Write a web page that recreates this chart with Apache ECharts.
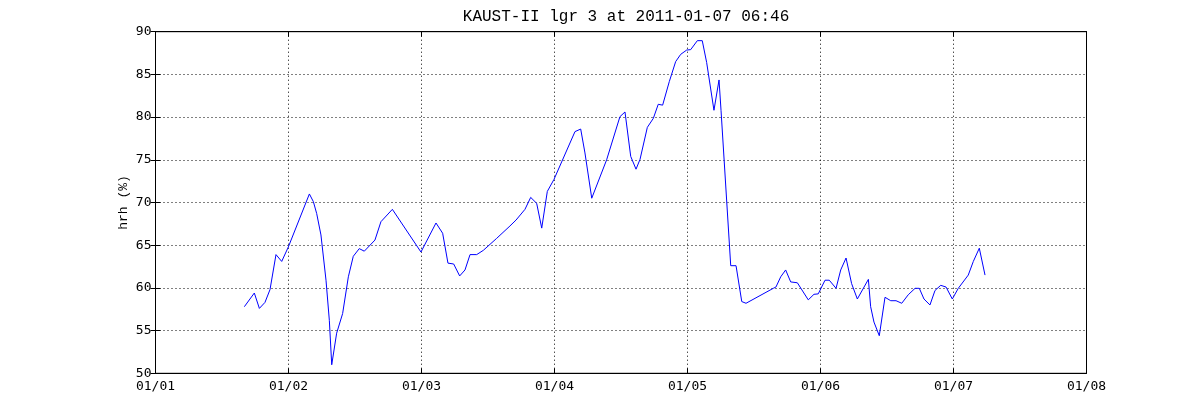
<!DOCTYPE html>
<html>
<head>
<meta charset="utf-8">
<script src="https://cdn.jsdelivr.net/npm/echarts@6/dist/echarts.min.js"></script>
<style>
html,body{margin:0;padding:0;background:#fff;}
#chart{width:1200px;height:420px;}
</style>
</head>
<body>
<div id="chart"></div>
<script>
// time in days since 2011-01-01 00:00
const days = [0.668,0.743,0.781,0.823,0.861,0.906,0.949,0.999,1.157,1.187,1.212,1.244,1.282,1.307,1.325,1.362,1.407,1.450,1.487,1.532,1.570,1.650,1.695,1.781,1.996,2.109,2.159,2.199,2.242,2.287,2.327,2.365,2.415,2.465,2.565,2.665,2.711,2.778,2.821,2.866,2.904,2.946,2.996,3.154,3.197,3.229,3.280,3.392,3.492,3.530,3.573,3.613,3.643,3.698,3.743,3.780,3.813,3.863,3.911,3.949,3.994,4.024,4.074,4.111,4.144,4.199,4.237,4.252,4.325,4.365,4.408,4.440,4.645,4.665,4.701,4.738,4.776,4.826,4.908,4.951,4.983,5.034,5.066,5.117,5.152,5.192,5.234,5.277,5.360,5.377,5.402,5.442,5.485,5.528,5.568,5.611,5.660,5.711,5.743,5.778,5.823,5.861,5.904,5.944,5.991,6.036,6.111,6.149,6.194,6.237];
const hrh = [57.8,59.4,57.6,58.3,59.8,63.9,63.1,64.8,71.0,70.1,68.7,66.2,60.9,56.2,51.0,54.7,57.0,61.3,63.7,64.6,64.3,65.6,67.75,69.2,64.2,67.6,66.4,62.9,62.8,61.4,62.1,63.9,63.9,64.4,65.8,67.25,67.95,69.2,70.6,69.9,67.0,71.3,72.7,78.3,78.6,75.8,70.5,75.0,80.05,80.6,75.4,73.9,75.05,78.8,79.85,81.5,81.4,84.15,86.5,87.35,87.85,87.9,88.95,88.95,86.4,80.8,84.35,80.8,62.6,62.6,58.4,58.2,59.95,60.1,61.3,62.1,60.7,60.6,58.6,59.25,59.3,60.9,60.9,59.95,62.1,63.5,60.5,58.7,61.0,57.8,56.0,54.4,58.9,58.5,58.5,58.2,59.2,59.95,59.95,58.7,58.0,59.7,60.3,60.1,58.7,59.95,61.5,63.1,64.65,61.5];
const xTickLabels = ['01/01','01/02','01/03','01/04','01/05','01/06','01/07','01/08'];
const titleText = 'KAUST-II lgr 3 at 2011-01-07 06:46';
const yName = 'hrh (%)';

const chart = echarts.init(document.getElementById('chart'), null, {renderer:'canvas'});
const gridLine = {show:true, lineStyle:{color:'#000', type:[1,3], width:1}};
const tickStyle = {show:true, inside:true, length:5, lineStyle:{color:'#000'}};
const labelFont = {color:'#000', fontFamily:'DejaVu Sans Mono', fontSize:13};
const points = days.map((d,i)=>[d,hrh[i]]);

chart.setOption({
  animation:false,
  backgroundColor:'#fff',
  title:{text:titleText, left:621, top:4, textAlign:'center',
    textStyle:{fontFamily:'Liberation Mono', fontWeight:'normal', fontSize:16, color:'#000'}},
  grid:{left:155.5, right:113.5, top:31.7, bottom:46.7, show:true, borderColor:'#000', borderWidth:1, backgroundColor:'#fff'},
  xAxis:[
    {type:'value', min:0, max:7, interval:1, position:'bottom',
     axisLine:{show:true, lineStyle:{color:'#000'}}, axisTick:tickStyle,
     splitLine:gridLine,
     axisLabel:Object.assign({margin:7, formatter:v=>xTickLabels[Math.round(v)]}, labelFont)},
    {type:'value', min:0, max:7, interval:1, position:'top',
     axisLine:{show:true, lineStyle:{color:'#000'}}, axisTick:tickStyle,
     splitLine:{show:false}, axisLabel:{show:false}}
  ],
  yAxis:[
    {type:'value', min:50, max:90, interval:5, position:'left',
     name:yName, nameLocation:'middle', nameGap:25, nameRotate:90, nameMoveOverlap:false,
     nameTextStyle:{fontFamily:'Liberation Mono', fontSize:13, color:'#000'},
     axisLine:{show:true, lineStyle:{color:'#000'}}, axisTick:tickStyle,
     splitLine:gridLine,
     axisLabel:Object.assign({margin:4}, labelFont)},
    {type:'value', min:50, max:90, interval:5, position:'right',
     axisLine:{show:true, lineStyle:{color:'#000'}}, axisTick:tickStyle,
     splitLine:{show:false}, axisLabel:{show:false}}
  ],
  series:[{
    type:'line', data:points, xAxisIndex:0, yAxisIndex:0,
    showSymbol:false, symbol:'none',
    lineStyle:{color:'#0000ff', width:1}
  }]
});
</script>
</body>
</html>
